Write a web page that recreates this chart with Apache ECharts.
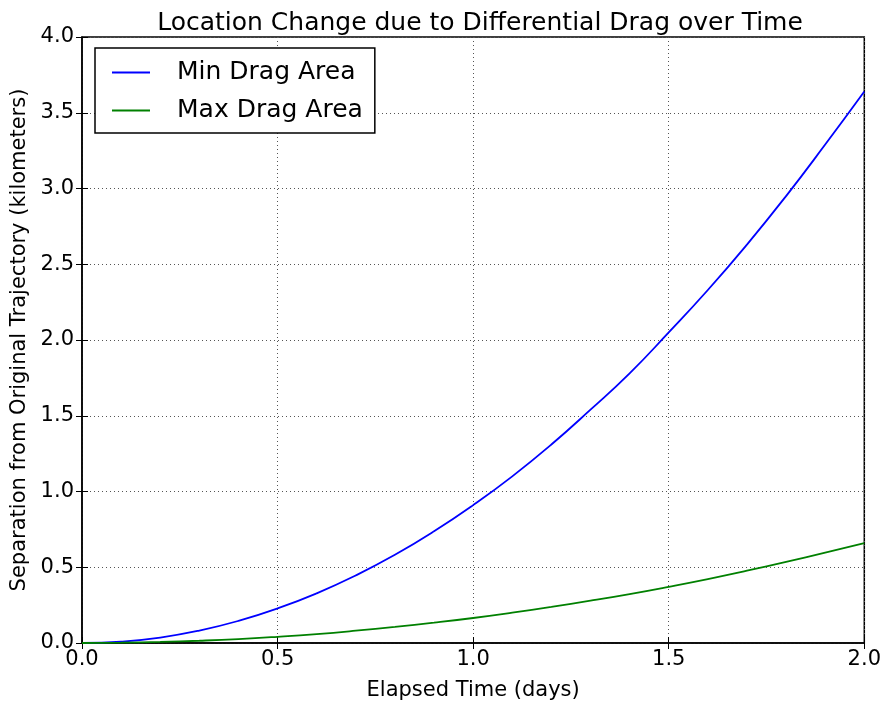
<!DOCTYPE html>
<html>
<head>
<meta charset="utf-8">
<script src="https://cdn.jsdelivr.net/npm/echarts@6/dist/echarts.min.js"></script>
<style>html,body{margin:0;padding:0;background:#fff;}#chart{width:884px;height:708px;}</style>
</head>
<body>
<div id="chart"></div>
<script>
// Elapsed time (days)
var timeDays = [0.0, 0.1, 0.2, 0.3, 0.4, 0.5, 0.6, 0.7, 0.8, 0.9, 1.0, 1.1, 1.2, 1.3, 1.4, 1.5, 1.6, 1.7, 1.8, 1.9, 2.0];
// Separation (km)
var minDragKm = [0.0, 0.009, 0.036, 0.082, 0.146, 0.228, 0.328, 0.446, 0.582, 0.737, 0.91, 1.10, 1.31, 1.54, 1.78, 2.05, 2.33, 2.63, 2.95, 3.29, 3.64];
var maxDragKm = [0.0, 0.002, 0.007, 0.015, 0.026, 0.041, 0.059, 0.081, 0.106, 0.134, 0.165, 0.20, 0.238, 0.279, 0.323, 0.371, 0.422, 0.477, 0.535, 0.596, 0.66];
var seriesNames = ['Min Drag Area', 'Max Drag Area'];
var xTicks = [0, 0.5, 1.0, 1.5, 2.0];
var yTicks = [0, 0.5, 1.0, 1.5, 2.0, 2.5, 3.0, 3.5, 4.0];

function pairs(xs, ys) { return xs.map(function (x, i) { return [x, ys[i]]; }); }

var font = 'DejaVu Sans';
var chart = echarts.init(document.getElementById('chart'), null, {renderer: 'canvas'});
var gridLine = {show: true, lineStyle: {color: '#555', type: [1, 3], width: 1}};
var fmt = function (v) { return v.toFixed(1); };
chart.setOption({
  animation: false,
  backgroundColor: '#fff',
  title: {
    text: 'Location Change due to Differential Drag over Time',
    left: 475, top: 6, textAlign: 'center',
    textStyle: {fontFamily: font, fontSize: 25, fontWeight: 'normal', color: '#000'}
  },
  legend: {
    data: seriesNames,
    orient: 'vertical',
    left: 95, top: 48,
    padding: [12, 12, 10, 17],
    itemGap: 13,
    itemWidth: 38, itemHeight: 2,
    icon: 'rect',
    borderColor: '#000', borderWidth: 1.5, borderRadius: 0,
    backgroundColor: '#fff',
    textStyle: {fontFamily: font, fontSize: 25, color: '#000', padding: [0, 0, 0, 22]}
  },
  grid: {left: 82, right: 17, top: 37, bottom: 65, show: true, borderColor: '#000', borderWidth: 1.5, backgroundColor: 'transparent'},
  xAxis: [{
    type: 'value', min: xTicks[0], max: xTicks[xTicks.length - 1], interval: 0.5,
    name: 'Elapsed Time (days)', nameLocation: 'middle', nameGap: 37,
    nameTextStyle: {fontFamily: font, fontSize: 21, color: '#000'},
    axisLine: {show: true, lineStyle: {color: '#000', width: 1.5}},
    axisTick: {show: true, inside: true, length: 6, lineStyle: {color: '#000'}},
    axisLabel: {fontFamily: font, fontSize: 21, color: '#000', margin: 6, formatter: fmt},
    splitLine: gridLine
  }, {
    type: 'value', position: 'top', min: 0, max: 2, interval: 0.5,
    axisLine: {show: false}, axisLabel: {show: false}, splitLine: {show: false},
    axisTick: {show: true, inside: true, length: 6, lineStyle: {color: '#000'}}
  }],
  yAxis: [{
    type: 'value', min: yTicks[0], max: yTicks[yTicks.length - 1], interval: 0.5,
    name: 'Separation from Original Trajectory (kilometers)', nameLocation: 'middle', nameGap: 49,
    nameTextStyle: {fontFamily: font, fontSize: 21, color: '#000'},
    axisLine: {show: true, lineStyle: {color: '#000', width: 1.5}},
    axisTick: {show: true, inside: true, length: 6, lineStyle: {color: '#000'}},
    axisLabel: {fontFamily: font, fontSize: 21, color: '#000', margin: 8, formatter: fmt},
    splitLine: gridLine
  }, {
    type: 'value', position: 'right', min: 0, max: 4, interval: 0.5,
    axisLine: {show: false}, axisLabel: {show: false}, splitLine: {show: false},
    axisTick: {show: true, inside: true, length: 6, lineStyle: {color: '#000'}}
  }],
  series: [{
    name: seriesNames[0], type: 'line', data: pairs(timeDays, minDragKm),
    showSymbol: false, symbol: 'none', smooth: true,
    lineStyle: {color: '#0000ff', width: 1.8}, itemStyle: {color: '#0000ff'}
  }, {
    name: seriesNames[1], type: 'line', data: pairs(timeDays, maxDragKm),
    showSymbol: false, symbol: 'none', smooth: true,
    lineStyle: {color: '#008000', width: 1.8}, itemStyle: {color: '#008000'}
  }]
});
</script>
</body>
</html>
